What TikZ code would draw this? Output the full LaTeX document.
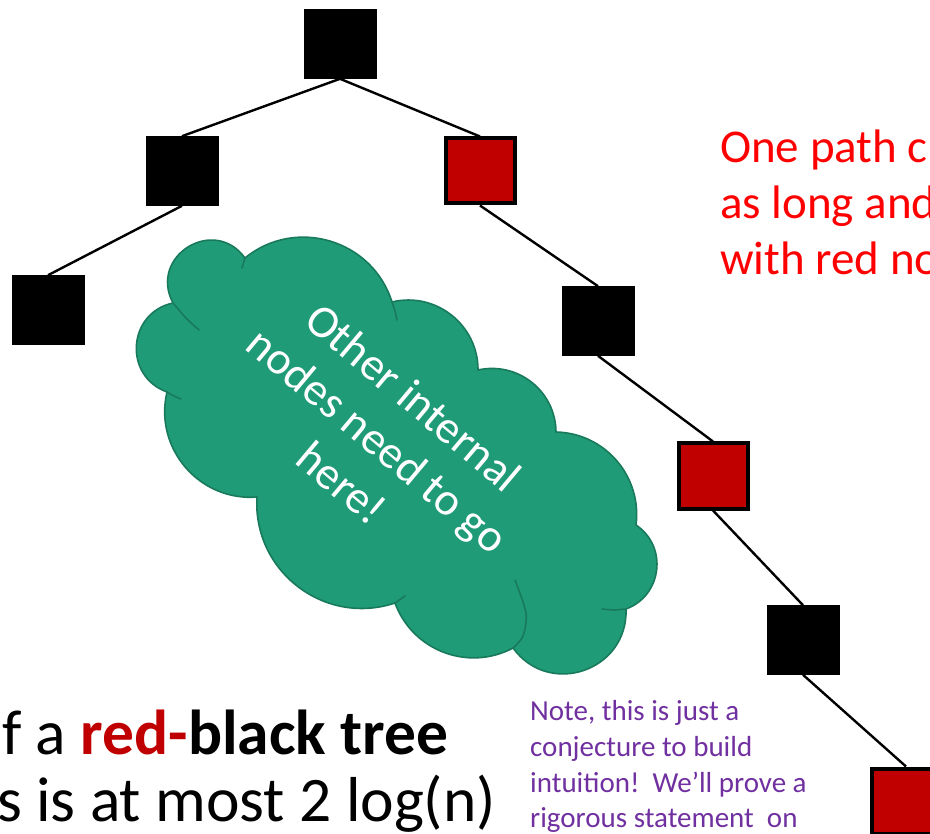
\documentclass[tikz,border=0pt]{standalone}
\usepackage{fontspec}
\setmainfont{Carlito}
\definecolor{rbred}{HTML}{C00000}
\definecolor{cloudfill}{HTML}{1F9B78}
\definecolor{cloudline}{HTML}{187A5A}
\definecolor{notepurple}{HTML}{7030A0}
\definecolor{pathred}{HTML}{FF0000}
\begin{document}
\begin{tikzpicture}[x=1pt,y=-1pt,
  blacknode/.style={fill=black, draw=black, line width=0.6pt, minimum width=72pt, minimum height=69pt, inner sep=0pt},
  rednode/.style={fill=rbred, draw=black, line width=4pt, minimum width=69pt, minimum height=65pt, inner sep=0pt},
  treeedge/.style={line width=2.4pt, black},
  cloudshape/.style={fill=cloudfill, draw=cloudline, line width=1.6pt, line join=round},
  cloudinner/.style={draw=cloudline, line width=1.6pt, line cap=round},
  txt/.style={inner sep=0pt, anchor=base west}]
\useasboundingbox (0,0) rectangle (930,834);
\clip (0,0) rectangle (930,834);

% tree nodes
\node[blacknode] (root) at (340,44) {};
\node[blacknode] (l1) at (182,171) {};
\node[rednode] (r1) at (480,171) {};
\node[blacknode] (ll) at (48,310) {};
\node[blacknode] (b2) at (598,321) {};
\node[rednode] (r3) at (713,476) {};
\node[blacknode] (b4) at (803,640) {};
\node[rednode] (r5) at (906,801) {};

% edges
\draw[treeedge] (root.south) -- (l1.north);
\draw[treeedge] (root.south) -- (r1.north);
\draw[treeedge] (l1.south) -- (ll.north);
\draw[treeedge] (r1.south) -- (b2.north);
\draw[treeedge] (b2.south) -- (r3.north);
\draw[treeedge] (r3.south) -- (b4.north);
\draw[treeedge] (b4.south) -- (r5.north);

% cloud
\path[cloudshape] (173,303)
  to[bend left=86, looseness=1.59] (245,258)
  to[bend left=56, looseness=1.09] (392,302)
  to[bend left=52, looseness=1.05] (478,370)
  to[bend left=51, looseness=1.05] (556,432)
  to[bend left=48, looseness=1.02] (636,525)
  to[bend left=63, looseness=1.17] (626,609)
  to[bend left=73, looseness=1.32] (513,648)
  to[bend left=49, looseness=1.03] (395,603)
  to[bend left=56, looseness=1.09] (257,497)
  to[bend left=54, looseness=1.07] (167,392)
  to[bend left=74, looseness=1.34] (173,303)
  -- cycle;
\draw[cloudinner] plot[smooth] coordinates {(173,303) (186,318) (199,330)};
\draw[cloudinner] plot[smooth] coordinates {(167,392) (174,396) (181,399)};
\draw[cloudinner] (245,258) -- (242,268);
\draw[cloudinner] plot[smooth] coordinates {(392,302) (395,311) (397,320)};
\draw[cloudinner] plot[smooth] coordinates {(626,609) (614,610) (602,609)};
\draw[cloudinner] plot[smooth] coordinates {(513,648) (523,636) (526,613) (515,580)};
\draw[cloudinner] (395,603) -- (405,596);

\node[text=white, rotate=-40, align=center, inner sep=0pt, font=\fontsize{46}{56}\selectfont] (cloudtext) at (378,440) {Other internal\\nodes need to go\\here!};

% red text (clipped at right)
\node[txt, text=pathred, font=\fontsize{47}{57}\selectfont] (rt1) at (720,163) {One path c};
\node[txt, text=pathred, font=\fontsize{47}{57}\selectfont] (rt2) at (720,219) {as long and};
\node[txt, text=pathred, font=\fontsize{47}{57}\selectfont] (rt3) at (720,275) {with red no};

% purple note
\node[txt, text=notepurple, font=\fontsize{29}{36}\selectfont] (pt1) at (530,720) {Note, this is just a};
\node[txt, text=notepurple, font=\fontsize{29}{36}\selectfont] (pt2) at (530,756) {conjecture to build};
\node[txt, text=notepurple, font=\fontsize{29}{36}\selectfont] (pt3) at (530,792) {intuition!\ \ We’ll prove a};
\node[txt, text=notepurple, font=\fontsize{29}{36}\selectfont] (pt4) at (530,827) {rigorous statement\ \ on};

% bottom statement (clipped at left)
\node[txt, font=\fontsize{63.5}{67}\selectfont] (bt1) at (2,754) {f a \textbf{\textcolor{rbred}{red-}black tree}};
\node[txt, font=\fontsize{63.5}{67}\selectfont] (bt2) at (-3,821) {s is at most 2 log(n)};
\end{tikzpicture}
\end{document}
